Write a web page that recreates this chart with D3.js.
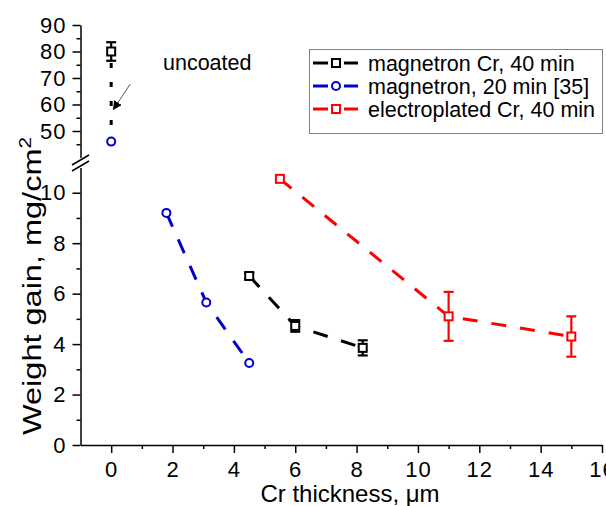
<!DOCTYPE html>
<html>
<head>
<meta charset="utf-8">
<script src="https://cdn.jsdelivr.net/npm/d3@7"></script>
<style>
  body { margin: 0; background: #fff; }
  text { font-family: "Liberation Sans", Arial, sans-serif; fill: #000; }
</style>
</head>
<body>
<svg id="chart" width="606" height="506"></svg>
<script>
// data
var blackX = [4.5, 6.0, 8.2];
var blackY = [6.7, 4.72, 3.85];
var blackErr = [0.12, 0.23, 0.3];
var blueX = [1.8, 3.1, 4.5];
var blueY = [9.2, 5.65, 3.25];
var redX = [5.5, 11.0, 15.0];
var redY = [10.55, 5.1, 4.3];
var redErr = [0, 0.97, 0.8];
var uncoatedX = [0];
var uncoatedBlack = [80];
var uncoatedBlackErr = [3.5];
var uncoatedBlue = [46];
var xTicks = [0, 2, 4, 6, 8, 10, 12, 14, 16];
var xMinor = [1, 3, 5, 7, 9, 11, 13, 15];
var yLowTicks = [0, 2, 4, 6, 8, 10];
var yLowMinor = [1, 3, 5, 7, 9];
var yHighTicks = [50, 60, 70, 80, 90];
var yHighMinor = [45, 55, 65, 75, 85];
var legendLabels = ['magnetron Cr, 40 min', 'magnetron, 20 min [35]', 'electroplated Cr, 40 min'];
var colors = ['#000000', '#0000cc', '#ff0000'];

var svg = d3.select('#chart');

var x = d3.scaleLinear().domain([-1, 16]).range([80.5, 602]);
var yLow = d3.scaleLinear().domain([0, 11]).range([445, 167.5]);
var yHigh = d3.scaleLinear().domain([40, 90]).range([157.5, 25]);

// x axis
var gx = svg.append('g').attr('transform', 'translate(0,445)');
gx.call(d3.axisBottom(x).tickValues(xTicks).tickSize(8).tickSizeOuter(0).tickPadding(8));
gx.append('g').call(d3.axisBottom(x).tickValues(xMinor).tickSize(4).tickFormat(''))
  .select('.domain').remove();

// y axis, lower part
var gyl = svg.append('g').attr('transform', 'translate(80.5,0)');
gyl.call(d3.axisLeft(yLow).tickValues(yLowTicks).tickSize(8).tickSizeOuter(0).tickPadding(6));
gyl.append('g').call(d3.axisLeft(yLow).tickValues(yLowMinor).tickSize(4).tickFormat(''))
  .select('.domain').remove();

// y axis, upper part
var gyh = svg.append('g').attr('transform', 'translate(80.5,0)');
gyh.call(d3.axisLeft(yHigh).tickValues(yHighTicks).tickSize(8).tickSizeOuter(0).tickPadding(6));
gyh.append('g').call(d3.axisLeft(yHigh).tickValues(yHighMinor).tickSize(4).tickFormat(''))
  .select('.domain').remove();

svg.selectAll('.tick text').style('font-size', '22px').style('letter-spacing', '1px')
  .style('font-family', '"Liberation Sans", Arial, sans-serif');
svg.selectAll('.domain, .tick line').attr('stroke', '#000').attr('stroke-width', 1.5);

// break marks
svg.append('line').attr('x1', 72).attr('y1', 165).attr('x2', 89).attr('y2', 155)
  .attr('stroke', '#000').attr('stroke-width', 1.5);
svg.append('line').attr('x1', 72).attr('y1', 171).attr('x2', 89).attr('y2', 161)
  .attr('stroke', '#000').attr('stroke-width', 1.5);

// axis titles
svg.append('text').attr('x', 350).attr('y', 502).attr('text-anchor', 'middle')
  .style('font-size', '24px').html('Cr thickness, &#956;m');

var yt = svg.append('text')
  .attr('transform', 'translate(41,286) rotate(-90) scale(1.3,1)')
  .attr('text-anchor', 'middle')
  .style('font-size', '25px');
yt.append('tspan').text('Weight gain, mg/cm');
yt.append('tspan').attr('dy', -10).style('font-size', '16px').text('2');

// series
var series = [
  {xs: blackX, ys: blackY, err: blackErr, color: colors[0], shape: 'square'},
  {xs: blueX, ys: blueY, err: null, color: colors[1], shape: 'circle'},
  {xs: redX, ys: redY, err: redErr, color: colors[2], shape: 'square'}
];

var line = d3.line().x(function (d) { return x(d[0]); }).y(function (d) { return yLow(d[1]); });

series.forEach(function (s) {
  var pts = s.xs.map(function (v, i) { return [v, s.ys[i]]; });
  svg.append('path').datum(pts).attr('d', line)
    .attr('fill', 'none').attr('stroke', s.color).attr('stroke-width', 3)
    .attr('stroke-dasharray', '15,14');
  if (s.err) {
    pts.forEach(function (p, i) {
      var e = s.err[i];
      if (!e) return;
      var cx = x(p[0]);
      var g = svg.append('g').attr('stroke', s.color).attr('stroke-width', 2.2);
      g.append('line').attr('x1', cx).attr('x2', cx).attr('y1', yLow(p[1] - e)).attr('y2', yLow(p[1] + e));
      g.append('line').attr('x1', cx - 5).attr('x2', cx + 5).attr('y1', yLow(p[1] - e)).attr('y2', yLow(p[1] - e));
      g.append('line').attr('x1', cx - 5).attr('x2', cx + 5).attr('y1', yLow(p[1] + e)).attr('y2', yLow(p[1] + e));
    });
  }
  pts.forEach(function (p) {
    drawMarker(x(p[0]), yLow(p[1]), s.shape, s.color);
  });
});

function drawMarker(cx, cy, shape, color) {
  if (shape === 'square') {
    svg.append('rect').attr('x', cx - 4).attr('y', cy - 4).attr('width', 8).attr('height', 8)
      .attr('fill', '#fff').attr('stroke', color).attr('stroke-width', 2);
  } else {
    svg.append('circle').attr('cx', cx).attr('cy', cy).attr('r', 4)
      .attr('fill', '#fff').attr('stroke', color).attr('stroke-width', 2);
  }
}

// uncoated points (upper part)
var ux = x(uncoatedX[0]);
svg.append('line').attr('x1', ux).attr('x2', ux)
  .attr('y1', yHigh(75.7)).attr('y2', yHigh(52.3))
  .attr('stroke', '#000').attr('stroke-width', 3).attr('stroke-dasharray', '5,14');
var ub = uncoatedBlack[0], ue = uncoatedBlackErr[0];
var ug = svg.append('g').attr('stroke', '#000').attr('stroke-width', 2.2);
ug.append('line').attr('x1', ux).attr('x2', ux).attr('y1', yHigh(ub - ue)).attr('y2', yHigh(ub + ue));
ug.append('line').attr('x1', ux - 5).attr('x2', ux + 5).attr('y1', yHigh(ub - ue)).attr('y2', yHigh(ub - ue));
ug.append('line').attr('x1', ux - 5).attr('x2', ux + 5).attr('y1', yHigh(ub + ue)).attr('y2', yHigh(ub + ue));
drawMarker(ux, yHigh(ub), 'square', colors[0]);
drawMarker(ux, yHigh(uncoatedBlue[0]), 'circle', colors[1]);

// arrow + label
svg.append('defs').append('marker').attr('id', 'ah')
  .attr('viewBox', '0 0 10 10').attr('refX', 10).attr('refY', 5)
  .attr('markerWidth', 9).attr('markerHeight', 9).attr('markerUnits', 'userSpaceOnUse')
  .attr('orient', 'auto')
  .append('path').attr('d', 'M0,0 L10,5 L0,10 Z').attr('fill', '#000');
svg.append('line').attr('x1', x(0.62)).attr('y1', yHigh(67.7))
  .attr('x2', x(0.06)).attr('y2', yHigh(57.9))
  .attr('stroke', '#555').attr('stroke-width', 1).attr('marker-end', 'url(#ah)');
svg.append('text').attr('x', 163).attr('y', 70).style('font-size', '21.5px').text('uncoated');

// legend
svg.append('rect').attr('x', 309.5).attr('y', 49.5).attr('width', 293).attr('height', 84)
  .attr('fill', '#fff').attr('stroke', '#808080').attr('stroke-width', 1);
var shapes = ['square', 'circle', 'square'];
legendLabels.forEach(function (lab, i) {
  var cy = 63 + i * 23;
  svg.append('line').attr('x1', 313).attr('x2', 328).attr('y1', cy).attr('y2', cy)
    .attr('stroke', colors[i]).attr('stroke-width', 3);
  svg.append('line').attr('x1', 344).attr('x2', 358).attr('y1', cy).attr('y2', cy)
    .attr('stroke', colors[i]).attr('stroke-width', 3);
  drawMarker(336, cy, shapes[i], colors[i]);
  svg.append('text').attr('x', 368).attr('y', cy + 8).style('font-size', '21.5px').text(lab);
});
</script>
</body>
</html>
